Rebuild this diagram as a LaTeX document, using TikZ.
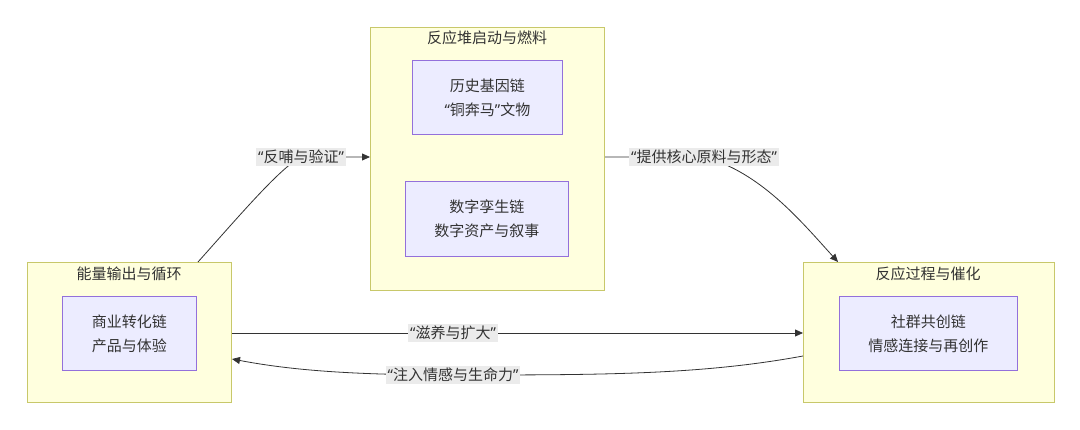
\documentclass[tikz,border=0pt]{standalone}
\usepackage{fontspec}
\setmainfont{Noto Sans CJK SC}
\newfontfamily\latq{Noto Sans}
\newcommand{\myLq}{{\latq “}}
\newcommand{\myRq}{{\latq ”}}
\usetikzlibrary{arrows.meta}
\definecolor{clfill}{HTML}{FFFFDE}
\definecolor{cldraw}{HTML}{C8C86A}
\definecolor{ndfill}{HTML}{ECECFF}
\definecolor{nddraw}{HTML}{9370DB}
\definecolor{txt}{HTML}{333333}
\definecolor{lbl}{HTML}{EBEBEB}
\tikzset{
  cluster/.style={draw=cldraw, fill=clfill, line width=1pt, inner sep=0pt, anchor=north west},
  inner/.style={draw=nddraw, fill=ndfill, line width=0.8pt, anchor=north west, inner sep=0pt},
  intext/.style={text=txt, align=center, font=\fontsize{15}{24}\selectfont},
  ctitle/.style={text=txt, font=\fontsize{15}{18}\selectfont, inner sep=0pt},
  elabel/.style={fill=lbl, text=txt, font=\fontsize{15}{18}\selectfont, inner sep=2pt},
  edge/.style={draw=txt, line width=0.8pt, -{Triangle[length=8pt,width=7pt]}},
}
\begin{document}
\begin{tikzpicture}[x=1pt,y=-1pt]
\path[use as bounding box, fill=white] (0,0) rectangle (1080,430);
% clusters
\node[cluster, minimum width=234pt, minimum height=263pt] (tc) at (370,27) {};
\node[cluster, minimum width=204pt, minimum height=140pt] (lc) at (27,262) {};
\node[cluster, minimum width=251pt, minimum height=140pt] (rc) at (803,262) {};
\node[ctitle] (tct) at (487,38) {反应堆启动与燃料};
\node[ctitle] (lct) at (129,274) {能量输出与循环};
\node[ctitle] (rct) at (928,274) {反应过程与催化};
% inner nodes
\node[inner, minimum width=150pt, minimum height=74pt] (n1) at (412,60) {};
\node[intext] (n1t) at (n1.center) {历史基因链\\\myLq 铜奔马\myRq 文物};
\node[inner, minimum width=163pt, minimum height=75pt] (n2) at (405,181) {};
\node[intext] (n2t) at (n2.center) {数字孪生链\\数字资产与叙事};
\node[inner, minimum width=134pt, minimum height=74pt] (n3) at (62,296) {};
\node[intext] (n3t) at (n3.center) {商业转化链\\产品与体验};
\node[inner, minimum width=178pt, minimum height=74pt] (n4) at (839,296) {};
\node[intext] (n4t) at (n4.center) {社群共创链\\情感连接与再创作};
% edge coordinates
\coordinate (e1s) at (198,262);
\coordinate (e1m) at (301,157);
\coordinate (e1e) at (tc.west |- e1m);
\coordinate (e2m) at (704,157);
\coordinate (e2s) at (tc.east |- e2m);
\coordinate (e2e) at (838,262);
\coordinate (e3s) at (lc.east |- 0,333);
\coordinate (e3e) at (rc.west |- 0,333);
\coordinate (e3m) at (453,333);
\coordinate (e4s) at (803,356);
\coordinate (e4m) at (453,375);
\coordinate (e4e) at (232,359);
% edges
\draw[edge] (e1s) .. controls (240,215) and (280,168) .. (e1m) -- (e1e);
\draw[edge] (e2s) -- (e2m) .. controls (760,172) and (800,220) .. (e2e);
\draw[edge] (e3s) -- (e3e);
\draw[edge] (e4s) .. controls (700,375) and (600,375) .. (e4m) .. controls (350,375) and (290,370) .. (e4e);
% labels
\node[elabel] (l1) at (e1m) {\myLq 反哺与验证\myRq};
\node[elabel] (l2) at (e2m) {\myLq 提供核心原料与形态\myRq};
\node[elabel] (l3) at (e3m) {\myLq 滋养与扩大\myRq};
\node[elabel] (l4) at (e4m) {\myLq 注入情感与生命力\myRq};
\end{tikzpicture}
\end{document}
